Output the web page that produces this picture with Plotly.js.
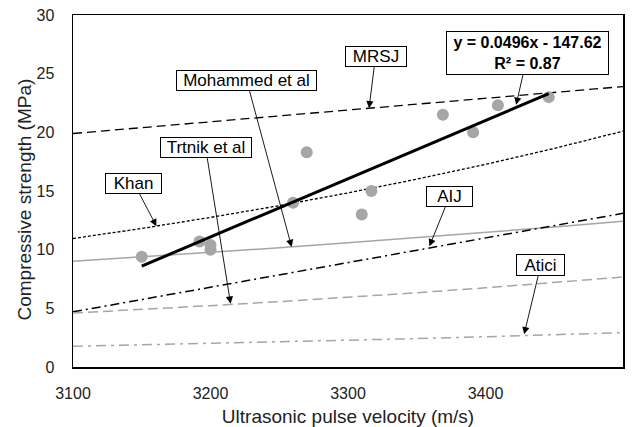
<!DOCTYPE html>
<html>
<head>
<meta charset="utf-8">
<script src="https://cdn.plot.ly/plotly-3.0.1.min.js"></script>
<style>html,body{margin:0;padding:0;background:#fff;}#chart{width:640px;height:427px;}</style>
</head>
<body>
<div id="chart"></div>
<script>
// Measured data (ultrasonic pulse velocity in m/s, compressive strength in MPa)
const velocity = [3150, 3192, 3200, 3200, 3260, 3270, 3310, 3317, 3369, 3391, 3409, 3446];
const strength = [9.4, 10.7, 10.4, 10.0, 14.0, 18.3, 13.0, 15.0, 21.5, 20.0, 22.3, 23.0];

// Linear fit of measured data
const fitVelocity = [3150, 3446];
const fitStrength = [8.6, 23.3];

const gridVelocity = [3100, 3150, 3200, 3250, 3300, 3350, 3400, 3450, 3500];
const mrsj     = [19.9, 20.4, 20.9, 21.4, 21.9, 22.4, 22.9, 23.4, 23.9];
const khan     = [10.95, 11.81, 12.75, 13.75, 14.84, 16.01, 17.27, 18.63, 20.10];
const mohammed = [9.01, 9.38, 9.76, 10.16, 10.58, 11.01, 11.46, 11.93, 12.42];
const aij      = [4.70, 5.75, 6.80, 7.85, 8.90, 9.95, 11.00, 12.05, 13.10];
const trtnik   = [4.60, 4.90, 5.23, 5.57, 5.94, 6.33, 6.75, 7.20, 7.67];
const atici    = [1.76, 1.88, 2.00, 2.13, 2.27, 2.42, 2.58, 2.75, 2.93];

const xTicks = [3100, 3200, 3300, 3400, 3500];
const yTicks = [0, 5, 10, 15, 20, 25, 30];

const FONT = '"Liberation Sans", Arial, sans-serif';
const GRAY = '#a6a6a6';
const TEXT = '#222';

function curve(y, color, dash, width) {
  return {x: gridVelocity, y: y, type: 'scatter', mode: 'lines',
          line: {color: color, dash: dash, width: width}, hoverinfo: 'skip'};
}

const traces = [
  curve(mrsj, '#000', '9px,5px', 1.3),
  curve(khan, '#000', '3px,2px', 1.3),
  curve(mohammed, GRAY, 'solid', 1.5),
  curve(aij, '#000', '9px,4px,2px,4px', 1.5),
  curve(trtnik, GRAY, '10px,5px', 1.5),
  curve(atici, GRAY, '10px,5px,3px,5px', 1.5),
  {x: velocity, y: strength, type: 'scatter', mode: 'markers',
   marker: {color: GRAY, size: 12, line: {width: 0}}},
  {x: fitVelocity, y: fitStrength, type: 'scatter', mode: 'lines',
   line: {color: '#000', width: 3}}
];

function label(text, x, y, ax, ay, w, h, bold) {
  return {
    x: x, y: y, xref: 'x', yref: 'y', text: text,
    showarrow: true, ax: ax, ay: ay, axref: 'pixel', ayref: 'pixel',
    arrowhead: 2, arrowsize: 1.6, arrowwidth: 0.9, arrowcolor: '#000', standoff: 0,
    bgcolor: '#fff', bordercolor: '#000', borderwidth: 1, borderpad: 0,
    width: w, height: h,
    font: {family: FONT, size: bold ? 16 : 17, color: '#000', weight: bold ? 'bold' : 'normal'}
  };
}

const annotations = [
  label('MRSJ', 3315.3, 22.05, 6.5, -52, 60, 19),
  label('y = 0.0496x - 147.62<br>R² = 0.87', 3422.3, 22.35, 11.7, -51.6, 161, 42, true),
  label('Mohammed et al', 3259, 10.23, -45, -166.7, 139, 19),
  label('Trtnik et al', 3214.6, 5.40, -25, -156, 90, 19),
  label('Khan', 3160.7, 12.0, -22.5, -43, 55, 18.5),
  label('AIJ', 3359.2, 10.29, 20, -49.3, 45, 19),
  label('Atici', 3428.1, 2.79, 16.7, -69.5, 47, 20),
  // y-axis title placed as rotated text so it sits where the reference has it
  {xref: 'paper', yref: 'paper', x: -0.089, y: 0.476, xanchor: 'center', yanchor: 'middle',
   text: 'Compressive strength (MPa)', textangle: -90, showarrow: false,
   font: {family: FONT, size: 19, color: TEXT}}
];

const layout = {
  width: 640, height: 427,
  margin: {l: 73, r: 17, t: 15, b: 60},
  paper_bgcolor: '#fff', plot_bgcolor: '#fff',
  showlegend: false,
  font: {family: FONT, color: TEXT},
  xaxis: {
    range: [3100, 3500], tickvals: xTicks, ticktext: xTicks.map(String),
    showgrid: false, zeroline: false, showline: true, mirror: true,
    linecolor: '#000', linewidth: 1.5, ticks: '', ticklabelstandoff: 11,
    tickfont: {size: 16, family: FONT, color: TEXT},
    title: {text: 'Ultrasonic pulse velocity (m/s)', font: {size: 19, family: FONT, color: TEXT}, standoff: 11}
  },
  yaxis: {
    range: [0, 30], tickvals: yTicks, ticktext: yTicks.map(String),
    showgrid: false, zeroline: false, showline: true, mirror: true,
    linecolor: '#000', linewidth: 1.5, ticks: '', ticklabelstandoff: 14,
    tickfont: {size: 16, family: FONT, color: TEXT}
  },
  annotations: annotations
};

Plotly.newPlot('chart', traces, layout, {displayModeBar: false, staticPlot: true});
</script>
</body>
</html>
